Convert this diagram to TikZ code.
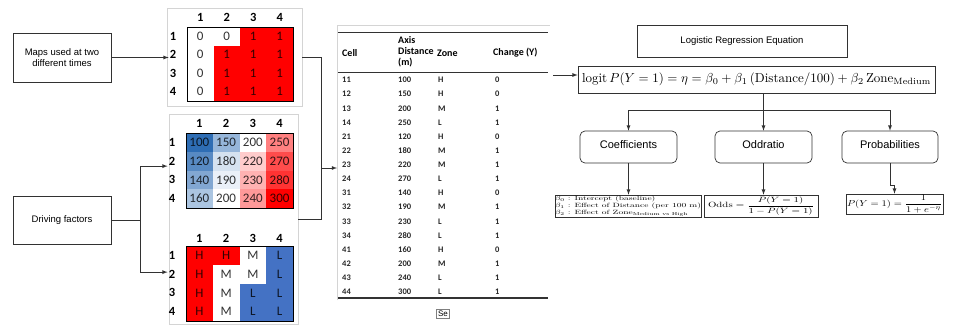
\documentclass[tikz,border=0pt]{standalone}
\usepackage{amsmath,amssymb}
\usepackage{xcolor}
\usepackage{graphicx}
\usepackage{fontspec}
\setsansfont{Liberation Sans}
\newfontfamily\calfont{Carlito}
\usepackage{tikz}
\usetikzlibrary{positioning,calc,arrows.meta}

\definecolor{heatblue}{RGB}{46,109,180}
\definecolor{zoneblue}{RGB}{68,114,196}
\definecolor{linegray}{RGB}{50,50,50}
\definecolor{panelgray}{RGB}{212,212,212}

\begin{document}
\begin{tikzpicture}[x=1pt, y=-1pt, >=latex,
  box/.style={draw=linegray, line width=0.7pt, font=\sffamily\fontsize{9.5}{11.5}\selectfont, align=center, inner sep=0pt},
  rbox/.style={draw=linegray, line width=0.7pt, rounded corners=5pt, font=\sffamily\fontsize{11}{13}\selectfont, minimum width=97pt, minimum height=32pt, text height=8pt, text depth=6pt, inner sep=0pt},
  fbox/.style={draw=linegray, line width=0.7pt, inner sep=0pt},
  panel/.style={draw=panelgray, inner sep=0pt, anchor=north west},
  lab/.style={font=\calfont\bfseries\fontsize{12.5}{14}\selectfont, inner sep=1pt},
  cell/.style={font=\calfont\fontsize{13}{15}\selectfont, inner sep=0pt, text opacity=0.8},
  th/.style={font=\calfont\bfseries\fontsize{10}{11}\selectfont, anchor=west, inner sep=0pt, align=left},
  td/.style={font=\calfont\bfseries\fontsize{8.5}{9}\selectfont, anchor=west, inner sep=0pt, text=black!85},
  conn/.style={draw=linegray, line width=0.8pt}]
  \useasboundingbox (0,0) rectangle (959,327);

  % inputs
  \node[box, minimum width=98pt, minimum height=49pt] (maps) at (62,57.5) {Maps used at two\\different times};
  \node[box, minimum width=98pt, minimum height=48pt] (drive) at (62,220) {Driving factors};

  \node[panel, minimum width=135pt, minimum height=98pt] (panA) at (167,8) {};
  \node[panel, minimum width=129pt, minimum height=210pt] (panB) at (169,114) {};

  % change map
  \foreach \row [count=\r] in {{0,0,1,1},{0,1,1,1},{0,1,1,1},{0,1,1,1}}
    \foreach \v [count=\c] in \row {
      \ifnum\v=1 \fill[red] (160.5+26.5*\c, 8.5+18.5*\r) rectangle ++(26.5,18.5); \fi
      \node[cell] (a\r\c) at (173.75+26.5*\c, 17.75+18.5*\r) {\v};
    }
  \foreach \i in {1,...,4} {
    \node[lab] (m1c\i) at (173.75+26.5*\i, 17) {\i};
    \node[lab] (m1r\i) at (173, 17.75+18.5*\i) {\i};
  }
  \draw[line width=1pt] (187,27) rectangle (293,101);

  % distance map
  \foreach \row [count=\r] in {{100,150,200,250},{120,180,220,270},{140,190,230,280},{160,200,240,300}}
    \foreach \v [count=\c] in \row {
      \pgfmathtruncatemacro\pct{abs(\v-200)}
      \ifnum\v<200 \def\hc{heatblue!\pct!white}\else\def\hc{red!\pct!white}\fi
      \fill[\hc] (159.25+26.75*\c, 114.25+18.75*\r) rectangle ++(26.75,18.75);
      \node[cell] (b\r\c) at (172.625+26.75*\c, 123.625+18.75*\r) {\v};
    }
  \foreach \i in {1,...,4} {
    \node[lab] (m2c\i) at (172.625+26.75*\i, 123) {\i};
    \node[lab] (m2r\i) at (172, 123.625+18.75*\i) {\i};
  }
  \draw[line width=1pt] (186,133) rectangle (293,208);

  % zone map
  \foreach \row [count=\r] in {{H,H,M,L},{H,M,M,L},{H,M,L,L},{H,M,L,L}}
    \foreach \v [count=\c] in \row {
      \if\v H\def\hc{red}\fi
      \if\v M\def\hc{white}\fi
      \if\v L\def\hc{zoneblue}\fi
      \fill[\hc] (159.25+26.75*\c, 227.25+18.75*\r) rectangle ++(26.75,18.75);
      \node[cell] (z\r\c) at (172.625+26.75*\c, 236.625+18.75*\r) {\v};
    }
  \foreach \i in {1,...,4} {
    \node[lab] (m3c\i) at (172.625+26.75*\i, 238) {\i};
    \node[lab] (m3r\i) at (172, 236.625+18.75*\i) {\i};
  }
  \draw[line width=1pt] (186,246) rectangle (293,321);

  \draw[conn, ->] (maps.east) -- (maps.east -| m1r2.west);
  \draw[conn] (drive.east) -- ++(29,0) coordinate (dsplit);
  \draw[conn, ->] (dsplit) |- ([yshift=-5pt]m2r2.west);
  \draw[conn, ->] (dsplit) |- ([yshift=2pt]m3r2.west);

  % table
  \node[minimum width=213pt, minimum height=275pt, inner sep=0pt, anchor=north west] (tabframe) at (337,25) {};
  \draw[panelgray] (tabframe.south west) -- (tabframe.north west) -- (tabframe.north east);
  \draw[linegray, line width=0.8pt] (338,32) -- (548,32);
  \draw[linegray, line width=0.8pt] (338,72) -- (548,72);
  \draw[linegray, line width=1.6pt] (338,298) -- (548,298);
  \node[th] (hcell) at (342,53) {Cell};
  \node[th] (hdist) at (398,52) {Axis\\Distance\\(m)};
  \node[th] (hzone) at (437,53) {Zone};
  \node[th] (hchg) at (493,53) {Change (Y)};
  \foreach \cl/\d/\z/\y [count=\i] in {11/100/H/0, 12/150/H/0, 13/200/M/1, 14/250/L/1,
      21/120/H/0, 22/180/M/1, 23/220/M/1, 24/270/L/1, 31/140/H/0, 32/190/M/1, 33/230/L/1,
      34/280/L/1, 41/160/H/0, 42/200/M/1, 43/240/L/1, 44/300/L/1} {
    \pgfmathsetmacro\ry{80+14.13*(\i-1)}
    \node[td] (tc\i) at (342,\ry) {\cl};
    \node[td] (td\i) at (398,\ry) {\d};
    \node[td] (tz\i) at (438,\ry) {\z};
    \node[td] (ty\i) at (495,\ry) {\y};
  }
  \node[draw=panelgray!60!black, font=\sffamily\fontsize{8}{9}\selectfont, inner sep=1.5pt] (se) at (443,314) {Se};

  \coordinate (tabin) at (321,168);
  \draw[conn] (panA.east) -| (tabin);
  \draw[conn] (panB.east) -| (tabin);
  \draw[conn, ->] (tabin) -- (tabin -| tabframe.west);

  % model
  \node[box, minimum width=210pt, minimum height=32pt] (title) at (742,41) {Logistic Regression Equation};
  \node[fbox, minimum width=357pt, minimum height=27pt] (eq) at (756.5,79.5)
    {\resizebox{349pt}{!}{$\mathrm{logit}\,P(Y=1)=\eta=\beta_0+\beta_1\,(\mathrm{Distance}/100)+\beta_2\,\mathrm{Zone}_{\mathrm{Medium}}$}};
  \coordinate (tabout) at (553,75);
  \draw[conn, ->] (tabout) -- (tabout -| eq.west);

  \node[rbox] (coef) at (628.5,147) {Coefficients};
  \node[rbox] (odd) at (763.5,147) {Oddratio};
  \node[rbox, minimum width=96pt] (prob) at (890,147) {Probabilities};

  \coordinate (bus) at ($(odd.north)+(0,-20)$);
  \draw[conn, ->] (eq.south -| odd.north) -- (odd.north);
  \draw[conn, ->] (bus) -| (coef.north);
  \draw[conn, ->] (bus) -| (prob.north);

  \node[fbox, minimum width=146pt, minimum height=22pt] (clist) at (628,206)
    {\resizebox*{146pt}{22pt}{\begin{tabular}{@{}l@{}}$\beta_0$ : Intercept (baseline)\\ $\beta_1$ : Effect of Distance (per 100 m)\\ $\beta_2$ : Effect of Zone$_{\text{Medium vs High}}$\end{tabular}}};
  \node[fbox, minimum width=114pt, minimum height=22pt] (oform) at (761,206)
    {\resizebox*{106pt}{18pt}{$\text{Odds}=\dfrac{P(Y=1)}{1-P(Y=1)}$}};
  \node[fbox, minimum width=97pt, minimum height=20pt] (pform) at (894.5,204)
    {\resizebox*{95pt}{18pt}{$P(Y=1)=\dfrac{1}{1+e^{-\eta}}$}};

  \draw[conn, ->] (coef.south) -- (coef.south |- clist.north);
  \draw[conn, ->] (odd.south) -- (odd.south |- oform.north);
  \draw[conn, ->] (prob.south) -- ++(0,22) -| (pform.north);
\end{tikzpicture}
\end{document}
